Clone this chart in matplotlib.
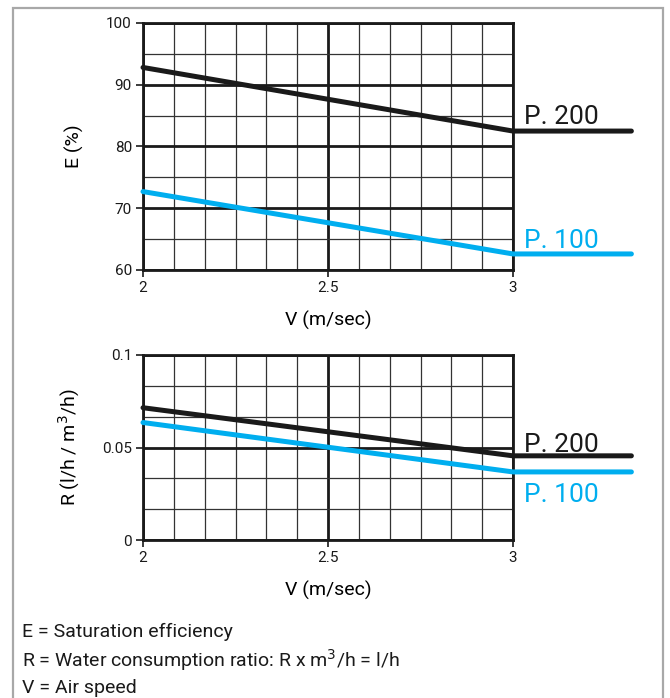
import numpy as np
import matplotlib.pyplot as plt
from matplotlib.patches import Rectangle

plt.rcParams['font.family'] = ['Roboto', 'DejaVu Sans']

# air speed (m/sec); last point is where the curves run out past the grid
v = [2.0, 3.0, 3.32]

# saturation efficiency E (%)
e_p200 = [92.8, 82.5, 82.5]
e_p100 = [72.7, 62.6, 62.6]

# water consumption ratio R (l/h / m3/h)
r_p200 = [0.0715, 0.0455, 0.0455]
r_p100 = [0.0635, 0.0368, 0.0368]

x_ticks = [2, 2.5, 3]
x_ticklabels = ['2', '2.5', '3']
e_ticks = [60, 70, 80, 90, 100]
r_ticks = [0, 0.05, 0.1]
r_ticklabels = ['0', '0.05', '0.1']

notes = ['E = Saturation efficiency',
         'R = Water consumption ratio: R x m$^3$/h = l/h',
         'V = Air speed']

black = '#1a1a1a'
blue = '#00aeef'

fig = plt.figure(figsize=(6.7, 6.98), dpi=100)
fig.add_artist(Rectangle((13 / 670, -0.1), 650 / 670, 1 - 8 / 698 + 0.1,
                         transform=fig.transFigure, fill=False,
                         edgecolor='#a8a8a8', lw=1.6))

ax1 = fig.add_axes([143 / 670, 1 - 270 / 698, 370 / 670, 247 / 698])
ax2 = fig.add_axes([143 / 670, 1 - 540 / 698, 370 / 670, 185 / 698])


def grid(ax, ymin, ymax, nmin, ymajor):
    ax.set_xlim(2, 3)
    ax.set_ylim(ymin, ymax)
    for xv in np.linspace(2, 3, 13):
        major = min(abs(xv - m) for m in x_ticks) < 1e-9
        ax.axvline(xv, color=black if major else '#333333',
                   lw=2.0 if major else 0.9, zorder=1)
    for yv in np.linspace(ymin, ymax, nmin + 1):
        major = min(abs(yv - m) for m in ymajor) < 1e-9
        ax.axhline(yv, color=black if major else '#333333',
                   lw=2.0 if major else 0.9, zorder=1)
    for s in ax.spines.values():
        s.set_linewidth(2.0)
        s.set_color(black)
    ax.tick_params(direction='out', length=5, width=1.2, labelsize=11,
                   colors=black, pad=3)
    ax.set_xticks(x_ticks)
    ax.set_xticklabels(x_ticklabels)


grid(ax1, 60, 100, 8, e_ticks)
ax1.set_yticks(e_ticks)
ax1.plot(v, e_p200, color=black, lw=3.6, clip_on=False, zorder=3,
         solid_capstyle='round')
ax1.plot(v, e_p100, color=blue, lw=3.6, clip_on=False, zorder=3,
         solid_capstyle='round')
ax1.text(3.03, 83.6, 'P. 200', color=black, fontsize=19)
ax1.text(3.03, 63.6, 'P. 100', color=blue, fontsize=19)
ax1.set_xlabel('V (m/sec)', fontsize=14, labelpad=11)
ax1.set_ylabel('E (%)', fontsize=14, labelpad=16)

grid(ax2, 0, 0.1, 6, r_ticks)
ax2.set_yticks(r_ticks)
ax2.set_yticklabels(r_ticklabels)
ax2.plot(v, r_p200, color=black, lw=3.6, clip_on=False, zorder=3,
         solid_capstyle='round')
ax2.plot(v, r_p100, color=blue, lw=3.6, clip_on=False, zorder=3,
         solid_capstyle='round')
ax2.text(3.03, 0.0475, 'P. 200', color=black, fontsize=19)
ax2.text(3.03, 0.0205, 'P. 100', color=blue, fontsize=19)
ax2.set_xlabel('V (m/sec)', fontsize=14, labelpad=11)
ax2.set_ylabel('R (l/h / m$^3$/h)', fontsize=14, labelpad=14)

for i, t in enumerate(notes):
    fig.text(22 / 670, 1 - (632 + i * 28) / 698, t, fontsize=14,
             color=black, va='center')

fig.savefig('out.png', dpi=100)
